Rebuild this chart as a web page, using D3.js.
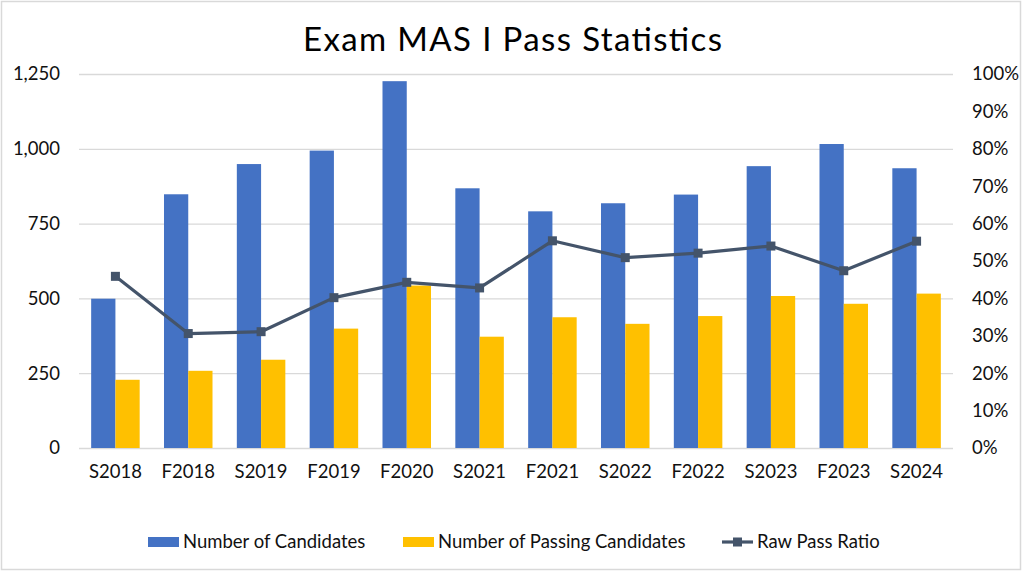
<!DOCTYPE html>
<html>
<head>
<meta charset="utf-8">
<script src="https://cdn.jsdelivr.net/npm/d3@7"></script>
<style>
  html, body { margin: 0; padding: 0; background: #fff; }
  svg { display: block; }
  text { font-family: Lato, "Open Sans", sans-serif; }
</style>
</head>
<body>
<svg id="chart" width="1024" height="573"></svg>
<script>
const categories = ["S2018","F2018","S2019","F2019","F2020","S2021","F2021","S2022","F2022","S2023","F2023","S2024"];
const candidates = [499, 848, 949, 994, 1226, 868, 791, 818, 847, 942, 1016, 935];
const passing    = [228, 258, 295, 399, 543, 372, 437, 415, 441, 508, 482, 516];
const passRatio  = [0.459, 0.306, 0.311, 0.402, 0.443, 0.428, 0.554, 0.509, 0.521, 0.540, 0.474, 0.553];
const leftTicks  = [0, 250, 500, 750, 1000, 1250];
const rightTicks = [0, 0.1, 0.2, 0.3, 0.4, 0.5, 0.6, 0.7, 0.8, 0.9, 1.0];
const seriesNames = ["Number of Candidates", "Number of Passing Candidates", "Raw Pass Ratio"];
const colors = { blue: "#4472C4", yellow: "#FFC000", line: "#44546A", grid: "#D9D9D9", text: "#111" };

const svg = d3.select("#chart");

// border
svg.append("rect").attr("x", 1.5).attr("y", 1.5).attr("width", 1019).attr("height", 568)
  .attr("fill", "#fff").attr("stroke", "#D9D9D9").attr("stroke-width", 1.5);

const plot = { left: 79, right: 953, top: 74, bottom: 448 };

const x = d3.scaleBand().domain(categories).range([plot.left, plot.right]).padding(0);
const bw = x.bandwidth();
const x1 = d3.scaleBand().domain(["c", "p"]).range([bw * 0.167, bw * 0.833]).padding(0);
const yL = d3.scaleLinear().domain([0, 1250]).range([plot.bottom, plot.top]);
const yR = d3.scaleLinear().domain([0, 1]).range([plot.bottom, plot.top]);

// gridlines
const gridAxis = d3.axisLeft(yL).tickValues(leftTicks).tickSize(-(plot.right - plot.left)).tickFormat("");
const gg = svg.append("g").attr("transform", `translate(${plot.left},0)`).call(gridAxis);
gg.select(".domain").remove();
gg.selectAll("line").attr("stroke", colors.grid).attr("stroke-width", 1.3);

// left axis labels
const la = svg.append("g").attr("transform", `translate(${plot.left},0)`)
  .call(d3.axisLeft(yL).tickValues(leftTicks).tickSize(0).tickPadding(19).tickFormat(d3.format(",")));
la.select(".domain").remove();
la.selectAll("text").attr("font-size", 18.5).attr("fill", colors.text).attr("font-family", "Lato");

// right axis labels
const ra = svg.append("g").attr("transform", `translate(${plot.right},0)`)
  .call(d3.axisRight(yR).tickValues(rightTicks).tickSize(0).tickPadding(19).tickFormat(d3.format(".0%")));
ra.select(".domain").remove();
ra.selectAll("text").attr("font-size", 18.5).attr("fill", colors.text).attr("font-family", "Lato");

// x axis labels
const xa = svg.append("g").attr("transform", `translate(0,${plot.bottom})`)
  .call(d3.axisBottom(x).tickSize(0).tickPadding(17));
xa.select(".domain").remove();
xa.selectAll("text").attr("font-size", 18.5).attr("fill", colors.text).attr("font-family", "Lato");

// bars
const groups = svg.append("g").selectAll("g").data(categories).join("g")
  .attr("transform", d => `translate(${x(d)},0)`);
groups.append("rect")
  .attr("x", x1("c")).attr("width", x1.bandwidth())
  .attr("y", (d, i) => yL(candidates[i])).attr("height", (d, i) => yL(0) - yL(candidates[i]))
  .attr("fill", colors.blue);
groups.append("rect")
  .attr("x", x1("p")).attr("width", x1.bandwidth())
  .attr("y", (d, i) => yL(passing[i])).attr("height", (d, i) => yL(0) - yL(passing[i]))
  .attr("fill", colors.yellow);

// line
const lineGen = d3.line().x((d, i) => x(categories[i]) + bw / 2).y(d => yR(d));
svg.append("path").datum(passRatio).attr("d", lineGen)
  .attr("fill", "none").attr("stroke", colors.line).attr("stroke-width", 3.2).attr("stroke-linejoin", "round");
const ms = 9;
svg.append("g").selectAll("rect").data(passRatio).join("rect")
  .attr("x", (d, i) => x(categories[i]) + bw / 2 - ms / 2)
  .attr("y", d => yR(d) - ms / 2)
  .attr("width", ms).attr("height", ms).attr("fill", colors.line);

// title
svg.append("text").attr("x", 512.5).attr("y", 51).attr("text-anchor", "middle")
  .attr("font-size", 33).attr("fill", "#000")
  .attr("textLength", 419).attr("lengthAdjust", "spacing")
  .text("Exam MAS I Pass Statistics");

// legend
const ly = 542;
const leg = svg.append("g");
const legItems = [
  { name: seriesNames[0], type: "bar", color: colors.blue, x: 148 },
  { name: seriesNames[1], type: "bar", color: colors.yellow, x: 403 },
  { name: seriesNames[2], type: "line", color: colors.line, x: 722 }
];
legItems.forEach(it => {
  if (it.type === "bar") {
    leg.append("rect").attr("x", it.x).attr("y", ly - 5).attr("width", 31).attr("height", 10).attr("fill", it.color);
  } else {
    leg.append("line").attr("x1", it.x).attr("x2", it.x + 31).attr("y1", ly).attr("y2", ly)
      .attr("stroke", it.color).attr("stroke-width", 3.2);
    leg.append("rect").attr("x", it.x + 15.5 - 4.5).attr("y", ly - 4.5).attr("width", 9).attr("height", 9).attr("fill", it.color);
  }
  leg.append("text").attr("x", it.x + 35).attr("y", ly).attr("dy", "0.35em")
    .attr("font-size", 18.5).attr("fill", colors.text).text(it.name);
});
</script>
</body>
</html>
